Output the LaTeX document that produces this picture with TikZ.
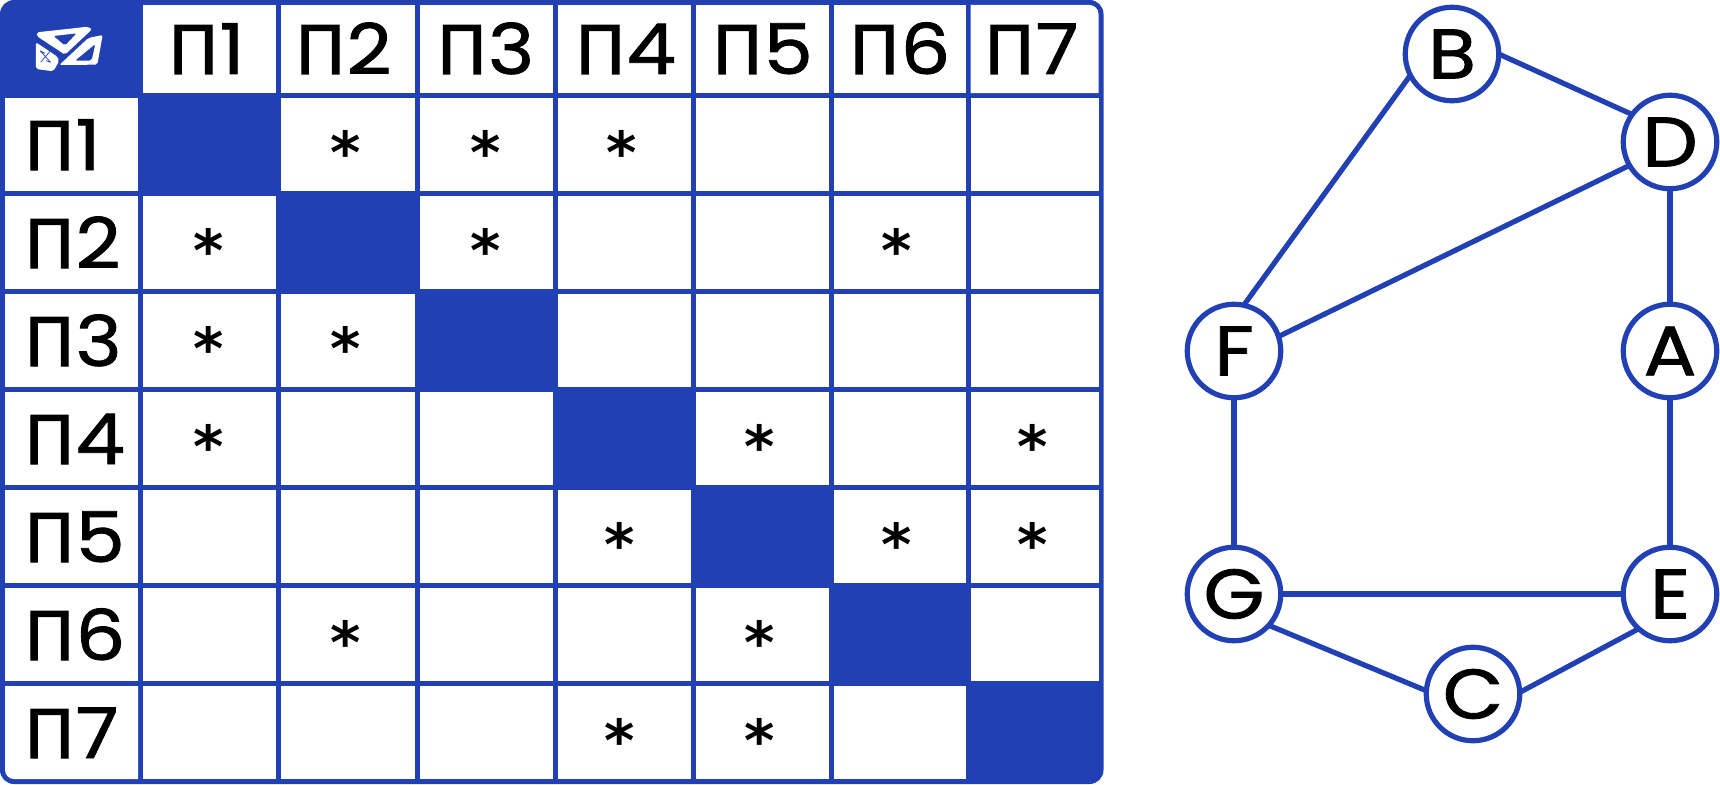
\documentclass[tikz,border=0pt]{standalone}
\usepackage{fontspec}
\setmainfont[FakeBold=1.2,FakeStretch=1.12]{Poppins}
\newfontfamily\cyrf[FakeBold=1.5]{DejaVu Sans}
\newfontfamily\starf{DejaVu Sans}
\definecolor{tblue}{HTML}{2140B3}
\newcommand{\pilabel}[1]{{\cyrf\fontsize{67}{67}\selectfont П}\kern1pt{\fontsize{70}{70}\selectfont #1}}
\tikzset{
  x=1pt,y=-1pt,
  cellwhite/.style={fill=white},
  lab/.style={anchor=base west,inner sep=0pt,text=black},
  star/.style={anchor=base,inner sep=0pt,text=black,font=\starf\bfseries\fontsize{58}{58}\selectfont},
  vert/.style={circle,draw=tblue,line width=5.2pt,fill=white,minimum size=93.5pt,inner sep=0pt,outer sep=0pt,text=black,font=\fontsize{70}{70}\selectfont},
  edge/.style={draw=tblue,line width=5.2pt}
}
\begin{document}
\begin{tikzpicture}
\useasboundingbox (0,0) rectangle (1720,784);
\fill[white] (0,0) rectangle (1720,784);
\fill[tblue,rounded corners=14pt] (0,0) rectangle (1103.5,784);
% white cells
\foreach \c/\xa/\xb in {0/5/138,1/143/276,2/281/414.5,3/419.5/552.5,4/557.5/690.5,5/695.5/829,6/834/965.5,7/970.5/1098.5}{
  \foreach \r/\ya/\yb in {0/5/93,1/98/191,2/196/289,3/294/387,4/392/485,5/490/583,6/588/681,7/686/779}{
    \ifnum\c=\r\relax\else
      \ifnum\c=7\relax
        \ifnum\r=0\relax
          \fill[cellwhite] (\xa,\ya) -- (\xb-9,\ya) arc[start angle=90,end angle=0,radius=9pt] -- (\xb,\yb) -- (\xa,\yb) -- cycle;
        \else
          \fill[cellwhite] (\xa,\ya) rectangle (\xb,\yb);
        \fi
      \else
        \ifnum\c=0\relax
          \ifnum\r=7\relax
            \fill[cellwhite] (\xa,\ya) -- (\xb,\ya) -- (\xb,\yb) -- (\xa+9,\yb) arc[start angle=270,end angle=180,radius=9pt] -- cycle;
          \else
            \fill[cellwhite] (\xa,\ya) rectangle (\xb,\yb);
          \fi
        \else
          \fill[cellwhite] (\xa,\ya) rectangle (\xb,\yb);
        \fi
      \fi
    \fi
  }
}
% logo
\begin{scope}[shift={(20,14)},x=0.3333pt,y=-0.3333pt]
\fill[white,even odd rule,rounded corners=2pt] (50,55) -- (205,38) -- (216,46) -- (135,122) -- (50,66) -- cycle
  (100,66) -- (170,58) -- (135,95) -- cycle;
\fill[white,even odd rule,rounded corners=2pt] (118,153) -- (205,72) -- (248,63) -- (232,152) -- cycle
  (165,140) -- (226,90) -- (215,140) -- cycle;
\fill[white,rounded corners=2pt] (48,85) -- (112,128) -- (118,140) -- (100,172) -- (48,165) -- cycle;
\draw[tblue,line width=0.7pt] (60,110) -- (92,145) (62,145) -- (90,112) (60,110) -- (75,118) (92,145) -- (78,140);
\end{scope}
% header labels
\foreach \n/\x in {1/168,2/295,3/436.5,4/575,5/712,6/849,7/984}{
  \node[lab] (h\n) at (\x,74) {\pilabel{\n}};
}
\foreach \n/\y in {1/170,2/268,3/366,4/464,5/562,6/660,7/758}{
  \node[lab] (r\n) at (24,\y) {\pilabel{\n}};
}
% asterisks
\foreach \i/\x/\y in {a/346/173,b/486/173,c/622/173,
  d/209/271,e/486/271,f/897/271,
  g/209/369,h/346/369,
  i/209/467,j/760/467,k/1033/467,
  l/620/565,m/897/565,n/1033/565,
  o/346/663,p/760/663,
  q/620/761,r/760/761}{
  \node[star] (s\i) at (\x,\y) {*};
}
% graph
\node[vert] (B) at (1452,54) {B};
\node[vert] (D) at (1670,142) {D};
\node[vert] (F) at (1234,351) {F};
\node[vert] (A) at (1670,351) {A};
\node[vert] (G) at (1234,594) {G};
\node[vert] (E) at (1670,594) {E};
\node[vert] (C) at (1473,694) {C};
\draw[edge] (B.0) -- (D.144);
\draw[edge] (B.207) -- (F.78);
\draw[edge] (F.18) -- (D.210);
\draw[edge] (D) -- (A);
\draw[edge] (A) -- (E);
\draw[edge] (F) -- (G);
\draw[edge] (G) -- (E);
\draw[edge] (G.-42) -- (C.176);
\draw[edge] (C.2) -- (E.228);
\end{tikzpicture}
\end{document}
